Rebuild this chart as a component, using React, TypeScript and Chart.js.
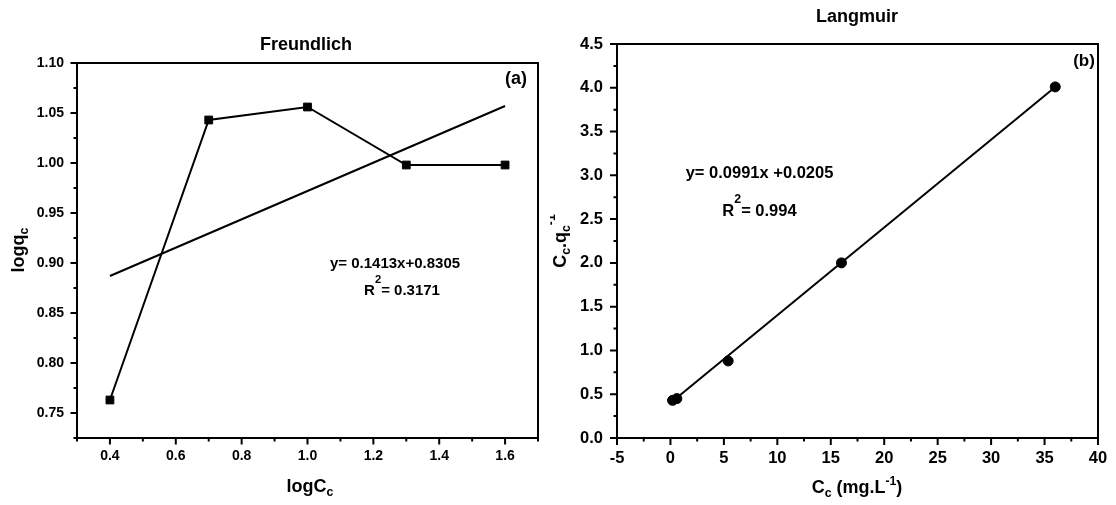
import React, { useEffect, useRef } from "react";
import { Chart, registerables } from "chart.js";

Chart.register(...registerables);

const FONT = '"Liberation Sans", Arial, Helvetica, sans-serif';

// ---- Freundlich (a) ----
const freundlichX = [0.4, 0.7, 1.0, 1.3, 1.6];
const freundlichY = [0.763, 1.043, 1.056, 0.998, 0.998];
const freundlichFitX = [0.4, 1.6];
const freundlichFitY = [0.887, 1.057];
const freundlichXTicks = [0.4, 0.6, 0.8, 1.0, 1.2, 1.4, 1.6];
const freundlichYTicks = [0.75, 0.8, 0.85, 0.9, 0.95, 1.0, 1.05, 1.1];

// ---- Langmuir (b) ----
const langmuirX = [0.2, 0.6, 5.4, 16, 36];
const langmuirY = [0.43, 0.45, 0.88, 2.0, 4.01];
const langmuirFitX = [0.2, 36];
const langmuirFitY = [0.42, 4.01];
const langmuirXTicks = [-5, 0, 5, 10, 15, 20, 25, 30, 35, 40];
const langmuirYTicks = [0, 0.5, 1.0, 1.5, 2.0, 2.5, 3.0, 3.5, 4.0, 4.5];

type Seg = { t: string; k?: "n" | "b" | "p" };
type TextItem = {
  segs: Seg[];
  x: number;
  y: number;
  size: number;
  rotate?: boolean;
  supRise?: number;
  supScale?: number;
};

function segSize(s: Seg, size: number, supScale: number) {
  return !s.k || s.k === "n" ? size : size * supScale;
}

function drawRich(ctx: CanvasRenderingContext2D, item: TextItem) {
  const supScale = item.supScale ?? 0.68;
  const supRise = item.supRise ?? 0.45;
  ctx.save();
  ctx.translate(item.x, item.y);
  if (item.rotate) ctx.rotate(-Math.PI / 2);
  ctx.textBaseline = "alphabetic";
  ctx.textAlign = "left";
  ctx.fillStyle = "#000";
  let total = 0;
  for (const s of item.segs) {
    ctx.font = `bold ${segSize(s, item.size, supScale)}px ${FONT}`;
    total += ctx.measureText(s.t).width;
  }
  let x = -total / 2;
  for (const s of item.segs) {
    const fs = segSize(s, item.size, supScale);
    ctx.font = `bold ${fs}px ${FONT}`;
    let dy = 0;
    if (s.k === "b") dy = item.size * 0.24;
    if (s.k === "p") dy = -item.size * supRise;
    ctx.fillText(s.t, x, dy);
    x += ctx.measureText(s.t).width;
  }
  ctx.restore();
}

function minorsOf(majors: number[], min: number, max: number) {
  const step = majors[1] - majors[0];
  const out: number[] = [];
  for (const m of majors) {
    for (const v of [m - step / 2, m + step / 2]) {
      if (v >= min - 1e-9 && v <= max + 1e-9 && !out.some((o) => Math.abs(o - v) < 1e-9)) out.push(v);
    }
  }
  return out;
}

type PanelCfg = {
  width: number;
  area: { left: number; right: number; top: number; bottom: number };
  xMin: number;
  xMax: number;
  yMin: number;
  yMax: number;
  xTicks: number[];
  yTicks: number[];
  xDec: number;
  yDec: number;
  tickFont: number;
  xPad: number;
  yPad: number;
  majorLen: number;
  minorLen: number;
  datasets: any[];
  texts: TextItem[];
};

function makeChart(canvas: HTMLCanvasElement, cfg: PanelCfg) {
  const H = 505;
  const framePlugin = {
    id: "frameAndText",
    afterDraw(chart: any) {
      const ctx: CanvasRenderingContext2D = chart.ctx;
      const ca = chart.chartArea;
      const xs = chart.scales.x;
      const ys = chart.scales.y;
      ctx.save();
      ctx.strokeStyle = "#000";
      ctx.lineWidth = 2;
      ctx.strokeRect(ca.left, ca.top, ca.right - ca.left, ca.bottom - ca.top);
      ctx.lineWidth = 2;
      ctx.beginPath();
      for (const v of cfg.xTicks) {
        const p = xs.getPixelForValue(v);
        ctx.moveTo(p, ca.bottom);
        ctx.lineTo(p, ca.bottom + cfg.majorLen);
      }
      for (const v of minorsOf(cfg.xTicks, cfg.xMin, cfg.xMax)) {
        const p = xs.getPixelForValue(v);
        ctx.moveTo(p, ca.bottom);
        ctx.lineTo(p, ca.bottom + cfg.minorLen);
      }
      for (const v of cfg.yTicks) {
        const p = ys.getPixelForValue(v);
        ctx.moveTo(ca.left, p);
        ctx.lineTo(ca.left - cfg.majorLen, p);
      }
      for (const v of minorsOf(cfg.yTicks, cfg.yMin, cfg.yMax)) {
        const p = ys.getPixelForValue(v);
        ctx.moveTo(ca.left, p);
        ctx.lineTo(ca.left - cfg.minorLen, p);
      }
      ctx.stroke();
      ctx.restore();
      for (const t of cfg.texts) drawRich(ctx, t);
    },
  };

  const tickFont = { family: FONT, size: cfg.tickFont, weight: "bold" as const };

  return new Chart(canvas, {
    type: "scatter",
    data: { datasets: cfg.datasets },
    options: {
      animation: false,
      responsive: false,
      maintainAspectRatio: false,
      devicePixelRatio: 1,
      events: [],
      layout: {
        padding: {
          left: 0,
          right: cfg.width - cfg.area.right,
          top: cfg.area.top,
          bottom: 0,
        },
      },
      plugins: {
        legend: { display: false },
        tooltip: { enabled: false },
        title: { display: false },
      },
      scales: {
        x: {
          type: "linear",
          position: "bottom",
          min: cfg.xMin,
          max: cfg.xMax,
          grid: { display: false, drawTicks: false, tickLength: 0 },
          border: { display: false },
          ticks: {
            font: tickFont,
            color: "#000",
            padding: cfg.xPad,
            maxRotation: 0,
            autoSkip: false,
            callback: (v: any) => Number(v).toFixed(cfg.xDec),
          },
          afterBuildTicks: (scale: any) => {
            scale.ticks = cfg.xTicks.map((v) => ({ value: v }));
          },
          afterFit: (scale: any) => {
            scale.height = H - cfg.area.bottom;
            scale.paddingLeft = 0;
            scale.paddingRight = 0;
            scale.paddingTop = 0;
            scale.paddingBottom = 0;
          },
        },
        y: {
          type: "linear",
          position: "left",
          min: cfg.yMin,
          max: cfg.yMax,
          grid: { display: false, drawTicks: false, tickLength: 0 },
          border: { display: false },
          ticks: {
            font: tickFont,
            color: "#000",
            padding: cfg.yPad,
            autoSkip: false,
            callback: (v: any) => Number(v).toFixed(cfg.yDec),
          },
          afterBuildTicks: (scale: any) => {
            scale.ticks = cfg.yTicks.map((v) => ({ value: v }));
          },
          afterFit: (scale: any) => {
            scale.width = cfg.area.left;
            scale.paddingLeft = 0;
            scale.paddingRight = 0;
            scale.paddingTop = 0;
            scale.paddingBottom = 0;
          },
        },
      },
    },
    plugins: [framePlugin],
  } as any);
}

const toPts = (xs: number[], ys: number[]) => xs.map((x, i) => ({ x, y: ys[i] }));

const LEFT_W = 550;
const RIGHT_W = 1116 - LEFT_W;
const RX = LEFT_W; // page offset of right canvas

export default function App() {
  const leftRef = useRef<HTMLCanvasElement>(null);
  const rightRef = useRef<HTMLCanvasElement>(null);

  useEffect(() => {
    const left = makeChart(leftRef.current!, {
      width: LEFT_W,
      area: { left: 77, right: 538, top: 63, bottom: 438 },
      xMin: 0.3,
      xMax: 1.7,
      yMin: 0.725,
      yMax: 1.1,
      xTicks: freundlichXTicks,
      yTicks: freundlichYTicks,
      xDec: 1,
      yDec: 2,
      tickFont: 14,
      xPad: 10,
      yPad: 13,
      majorLen: 6.5,
      minorLen: 3.5,
      datasets: [
        {
          data: toPts(freundlichFitX, freundlichFitY),
          showLine: true,
          borderColor: "#000",
          borderWidth: 2,
          pointRadius: 0,
        },
        {
          data: toPts(freundlichX, freundlichY),
          showLine: true,
          borderColor: "#000",
          backgroundColor: "#000",
          borderWidth: 2,
          pointStyle: "rect",
          pointRadius: 5.5,
          pointBorderWidth: 1,
          pointBackgroundColor: "#000",
          pointBorderColor: "#000",
        },
      ],
      texts: [
        { segs: [{ t: "Freundlich" }], x: 306, y: 50, size: 18 },
        { segs: [{ t: "(a)" }], x: 516, y: 84, size: 18 },
        { segs: [{ t: "y= 0.1413x+0.8305" }], x: 395, y: 268, size: 15 },
        {
          segs: [{ t: "R" }, { t: "2", k: "p" }, { t: "= 0.3171" }],
          x: 402,
          y: 295,
          size: 15,
          supRise: 0.8,
          supScale: 0.75,
        },
        { segs: [{ t: "logC" }, { t: "c", k: "b" }], x: 310, y: 492, size: 18 },
        { segs: [{ t: "logq" }, { t: "c", k: "b" }], x: 24, y: 250, size: 18, rotate: true },
      ],
    });

    const right = makeChart(rightRef.current!, {
      width: RIGHT_W,
      area: { left: 617 - RX, right: 1098 - RX, top: 44, bottom: 438 },
      xMin: -5,
      xMax: 40,
      yMin: 0,
      yMax: 4.5,
      xTicks: langmuirXTicks,
      yTicks: langmuirYTicks,
      xDec: 0,
      yDec: 1,
      tickFont: 16.5,
      xPad: 11,
      yPad: 14,
      majorLen: 7,
      minorLen: 3.5,
      datasets: [
        {
          data: toPts(langmuirFitX, langmuirFitY),
          showLine: true,
          borderColor: "#000",
          borderWidth: 2,
          pointRadius: 0,
        },
        {
          data: toPts(langmuirX, langmuirY),
          showLine: false,
          pointStyle: "circle",
          pointRadius: 5,
          pointBorderWidth: 1,
          pointBackgroundColor: "#000",
          pointBorderColor: "#000",
        },
      ],
      texts: [
        { segs: [{ t: "Langmuir" }], x: 857 - RX, y: 22, size: 18 },
        { segs: [{ t: "(b)" }], x: 1084 - RX, y: 66, size: 17 },
        { segs: [{ t: "y= 0.0991x +0.0205" }], x: 759.5 - RX, y: 178, size: 16.5 },
        {
          segs: [{ t: "R" }, { t: "2", k: "p" }, { t: "= 0.994" }],
          x: 759.5 - RX,
          y: 216,
          size: 16.5,
          supRise: 0.8,
          supScale: 0.75,
        },
        {
          segs: [{ t: "C" }, { t: "c", k: "b" }, { t: " (mg.L" }, { t: "-1", k: "p" }, { t: ")" }],
          x: 857 - RX,
          y: 493,
          size: 18,
        },
        {
          segs: [{ t: "C" }, { t: "c", k: "b" }, { t: ".q" }, { t: "c", k: "b" }, { t: "-1", k: "p" }],
          x: 566 - RX,
          y: 241,
          size: 18,
          rotate: true,
          supRise: 0.6,
        },
      ],
    });

    return () => {
      left.destroy();
      right.destroy();
    };
  }, []);

  return (
    <div
      style={{
        position: "absolute",
        left: 0,
        top: 0,
        width: 1116,
        height: 505,
        background: "#fff",
        overflow: "hidden",
      }}
    >
      <canvas
        ref={leftRef}
        width={LEFT_W}
        height={505}
        style={{ position: "absolute", left: 0, top: 0, width: LEFT_W, height: 505 }}
      />
      <canvas
        ref={rightRef}
        width={RIGHT_W}
        height={505}
        style={{ position: "absolute", left: LEFT_W, top: 0, width: RIGHT_W, height: 505 }}
      />
    </div>
  );
}
